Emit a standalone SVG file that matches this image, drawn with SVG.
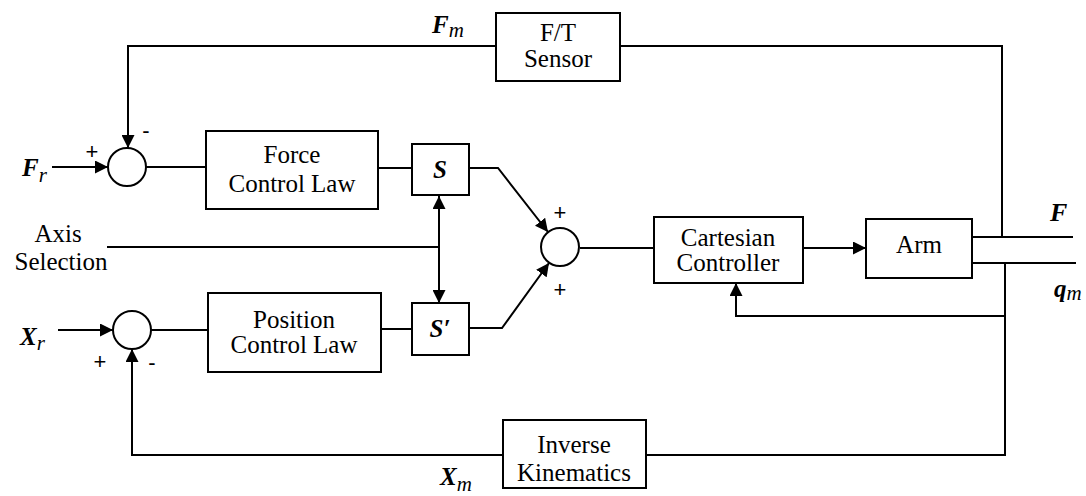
<svg xmlns="http://www.w3.org/2000/svg" width="1086" height="496" viewBox="0 0 1086 496">
<defs>
<marker id="ah" viewBox="0 0 13 13" refX="13" refY="6.5" markerWidth="13" markerHeight="13" markerUnits="userSpaceOnUse" orient="auto-start-reverse">
<path d="M0,0 L13,6.5 L0,13 Z" fill="#000"/>
</marker>
</defs>
<style>
.b{fill:#fff;stroke:#000;stroke-width:2}
.c{fill:none;stroke:#000;stroke-width:2}
.t{font-family:"Liberation Serif","Times New Roman",serif;font-size:25px;fill:#000;text-anchor:middle}
.m{font-family:"Liberation Serif","Times New Roman",serif;font-weight:bold;font-style:italic;fill:#000}
.sub{font-weight:normal;font-size:21px}
.s{font-family:"Liberation Sans",Arial,sans-serif;font-size:22px;fill:#000;text-anchor:middle}
</style>
<rect width="1086" height="496" fill="#fff"/>
<g id="connectors" class="c">
<path d="M1002,237 V46 H620"/>
<path d="M496,46 H128 V148" marker-end="url(#ah)"/>
<path d="M52,167 H108" marker-end="url(#ah)"/>
<path d="M146,167 H206"/>
<path d="M378,168 H412"/>
<path d="M469,168 H498 L548,232" marker-end="url(#ah)"/>
<path d="M469,328 H502 L549,263" marker-end="url(#ah)"/>
<path d="M107,247 H439"/>
<path d="M439,196 V303" marker-start="url(#ah)" marker-end="url(#ah)"/>
<path d="M580,248 H654"/>
<path d="M803,248 H866" marker-end="url(#ah)"/>
<path d="M972,237 H1073"/>
<path d="M972,263 H1076"/>
<path d="M1005,263 V455 H646"/>
<path d="M1005,316 H736 V283" marker-end="url(#ah)"/>
<path d="M503,455 H132 V349" marker-end="url(#ah)"/>
<path d="M58,330 H113" marker-end="url(#ah)"/>
<path d="M151,330 H208"/>
<path d="M381,329 H412"/>
</g>
<g id="ft-sensor"><rect class="b" x="496" y="13" width="124" height="68"/><text class="t" x="558" y="41">F/T</text><text class="t" x="558" y="67">Sensor</text></g>
<g id="sum-force"><circle class="b" cx="127" cy="167" r="19"/></g>
<g id="force-control-law"><rect class="b" x="206" y="131" width="172" height="78"/><text class="t" x="292" y="163">Force</text><text class="t" x="292" y="192">Control Law</text></g>
<g id="s-block"><rect class="b" x="412" y="144" width="57" height="51"/><text class="m" x="440" y="178" font-size="25" text-anchor="middle">S</text></g>
<g id="s-prime-block"><rect class="b" x="412" y="303" width="57" height="52"/><text class="m" x="440" y="337" font-size="25" text-anchor="middle">S′</text></g>
<g id="sum-main"><circle class="b" cx="560" cy="247" r="19"/></g>
<g id="cartesian-controller"><rect class="b" x="654" y="217" width="149" height="66"/><text class="t" x="728" y="246">Cartesian</text><text class="t" x="728" y="271">Controller</text></g>
<g id="arm"><rect class="b" x="866" y="219" width="106" height="59"/><text class="t" x="919" y="253">Arm</text></g>
<g id="sum-position"><circle class="b" cx="132" cy="330" r="19"/></g>
<g id="position-control-law"><rect class="b" x="208" y="293" width="173" height="79"/><text class="t" x="294" y="328">Position</text><text class="t" x="294" y="353">Control Law</text></g>
<g id="inverse-kinematics"><rect class="b" x="503" y="420" width="143" height="68"/><text class="t" x="574" y="453">Inverse</text><text class="t" x="574" y="481">Kinematics</text></g>
<g id="axis-selection"><text class="t" x="58" y="242">Axis</text><text class="t" x="61" y="270">Selection</text></g>
<g id="labels">
<text class="m" x="22" y="176" font-size="25">F<tspan class="sub" dy="6">r</tspan></text>
<text class="m" x="432" y="33" font-size="25">F<tspan class="sub" dy="4">m</tspan></text>
<text class="m" x="20" y="345" font-size="25">X<tspan class="sub" dy="5">r</tspan></text>
<text class="m" x="440" y="485" font-size="25">X<tspan class="sub" dy="6">m</tspan></text>
<text class="m" x="1050" y="221" font-size="26">F</text>
<text class="m" x="1054" y="297" font-size="25">q<tspan class="sub" dy="3">m</tspan></text>
<text class="s" x="92" y="159">+</text>
<text class="s" x="146" y="138">-</text>
<text class="s" x="100" y="369">+</text>
<text class="s" x="152" y="370">-</text>
<text class="s" x="560" y="220">+</text>
<text class="s" x="560" y="297">+</text>
</g>
</svg>
